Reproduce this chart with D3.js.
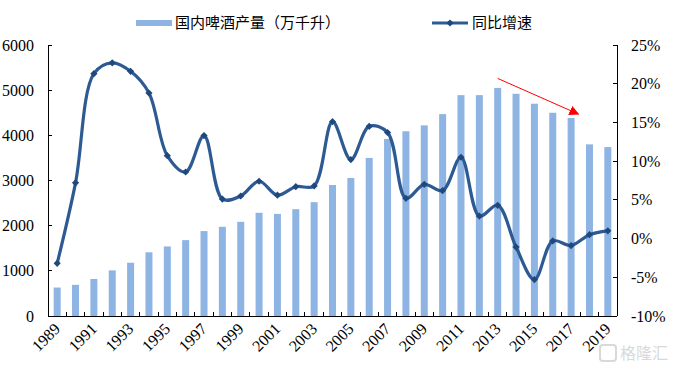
<!DOCTYPE html>
<html><head><meta charset="utf-8">
<script src="https://cdn.jsdelivr.net/npm/d3@7/dist/d3.min.js"></script>
<style>body{margin:0;background:#fff}svg{display:block}</style>
</head><body><svg id="c" width="674" height="372"></svg>
<script>
const years = [1989,1990,1991,1992,1993,1994,1995,1996,1997,1998,1999,2000,2001,2002,2003,2004,2005,2006,2007,2008,2009,2010,2011,2012,2013,2014,2015,2016,2017,2018,2019];
const production = [630,690,820,1010,1180,1410,1540,1680,1880,1975,2085,2285,2260,2365,2520,2900,3055,3500,3920,4090,4220,4470,4890,4890,5050,4920,4700,4500,4385,3800,3740];
const growth = [-3.2,7.2,21.3,22.7,21.6,18.8,10.7,8.6,13.3,5.1,5.5,7.4,5.6,6.7,6.8,15.1,10.2,14.5,13.7,5.2,7.0,6.2,10.5,2.9,4.3,-1.1,-5.3,-0.3,-0.9,0.5,1.0];
const leftTicks = [0,1000,2000,3000,4000,5000,6000];
const rightTicks = [-10,-5,0,5,10,15,20,25];
const labelYears = [1989,1991,1993,1995,1997,1999,2001,2003,2005,2007,2009,2011,2013,2015,2017,2019];
const legendNames = ["国内啤酒产量（万千升）","同比增速"];
// annotation arrow: [yearPosition, leftAxisValue]
const arrowFrom = [2013, 5260];
const arrowTo = [2017.4, 4470];

const svg = d3.select("#c");
const L = 48, R = 617, T = 45, B = 316;
const barColor = "#8EB4E3", lineColor = "#2E5A93", markColor = "#1F497D";
const serif = "'Liberation Serif','Times New Roman',serif";
const cjk = "'Noto Sans CJK SC','Microsoft YaHei',sans-serif";

const x = d3.scaleBand().domain(years).range([L, R]).padding(0);
const xc = y => x(y) + x.bandwidth()/2;
const xf = v => L + (v - years[0] + 0.5) * x.bandwidth();
const yL = d3.scaleLinear().domain([0,6000]).range([B, T]);
const yR = d3.scaleLinear().domain([-10,25]).range([B, T]);

// bars
const bw = 7;
svg.append("g").selectAll("rect").data(years).join("rect")
  .attr("x", (d)=>xc(d)-bw/2).attr("width", bw)
  .attr("y", (d,i)=>yL(production[i])).attr("height",(d,i)=>B-yL(production[i]))
  .attr("fill", barColor);

// axes
const ax = svg.append("g").attr("stroke","#000").attr("stroke-width",1).attr("shape-rendering","crispEdges");
ax.append("line").attr("x1",L).attr("x2",L).attr("y1",T).attr("y2",B);
ax.append("line").attr("x1",R).attr("x2",R).attr("y1",T).attr("y2",B);
ax.append("line").attr("x1",L).attr("x2",R).attr("y1",B).attr("y2",B);
leftTicks.forEach(t=>ax.append("line").attr("x1",L).attr("x2",L+4).attr("y1",yL(t)).attr("y2",yL(t)));
rightTicks.forEach(t=>ax.append("line").attr("x1",R-4).attr("x2",R).attr("y1",yR(t)).attr("y2",yR(t)));
years.slice(1).forEach(yv=>ax.append("line").attr("x1",x(yv)).attr("x2",x(yv)).attr("y1",B-4).attr("y2",B));

svg.append("g").selectAll("text").data(leftTicks).join("text")
  .attr("x", L-14).attr("y", d=>yL(d)).attr("dy","0.35em").attr("text-anchor","end")
  .attr("font-family",serif).attr("font-size",16).text(d=>d);
svg.append("g").selectAll("text").data(rightTicks).join("text")
  .attr("x", R+14).attr("y", d=>yR(d)).attr("dy","0.35em").attr("text-anchor","start")
  .attr("font-family",serif).attr("font-size",16).text(d=>d+"%");
svg.append("g").selectAll("text").data(labelYears).join("text")
  .attr("transform", d=>`translate(${xc(d)-4},${B+6}) rotate(-45)`)
  .attr("text-anchor","end").attr("dy","0.7em")
  .attr("font-family",serif).attr("font-size",16).text(d=>d);

// line
const pts = years.map((d,i)=>[xc(d), yR(growth[i])]);
svg.append("path").attr("d", d3.line().curve(d3.curveCatmullRom.alpha(0.5))(pts))
  .attr("fill","none").attr("stroke",lineColor).attr("stroke-width",3.2);
const dm = 3.6;
const diamond = `M0,${-dm}L${dm},0L0,${dm}L${-dm},0Z`;
svg.append("g").selectAll("path").data(pts).join("path")
  .attr("transform", d=>`translate(${d[0]},${d[1]})`).attr("d", diamond).attr("fill", markColor);

// arrow
const defs = svg.append("defs");
defs.append("marker").attr("id","ah").attr("viewBox","0 0 10 10").attr("refX",9).attr("refY",5)
  .attr("markerWidth",10).attr("markerHeight",10).attr("markerUnits","userSpaceOnUse").attr("orient","auto")
  .append("path").attr("d","M0,0L10,5L0,10Z").attr("fill","#FF0000");
svg.append("line").attr("x1",xf(arrowFrom[0])).attr("y1",yL(arrowFrom[1]))
  .attr("x2",xf(arrowTo[0])).attr("y2",yL(arrowTo[1]))
  .attr("stroke","#FF0000").attr("stroke-width",1).attr("marker-end","url(#ah)");

// legend
const lg = svg.append("g");
lg.append("rect").attr("x",136).attr("y",20).attr("width",36).attr("height",6).attr("fill",barColor);
lg.append("text").attr("x",175).attr("y",23).attr("dy","0.35em").attr("font-family",cjk).attr("font-size",15).text(legendNames[0]);
lg.append("line").attr("x1",432).attr("x2",468).attr("y1",23).attr("y2",23).attr("stroke",lineColor).attr("stroke-width",3);
lg.append("path").attr("transform","translate(450,23)").attr("d",diamond).attr("fill",markColor);
lg.append("text").attr("x",472).attr("y",23).attr("dy","0.35em").attr("font-family",cjk).attr("font-size",15).text(legendNames[1]);

// watermark
const wm = svg.append("g").attr("opacity",0.55);
wm.append("rect").attr("x",600).attr("y",345).attr("width",16).attr("height",16).attr("rx",3)
  .attr("fill","none").attr("stroke","#bbb").attr("stroke-width",2);
wm.append("text").attr("x",620).attr("y",353).attr("dy","0.35em").attr("font-family",cjk).attr("font-size",16)
  .attr("fill","#bbb").text("格隆汇");
</script></body></html>
